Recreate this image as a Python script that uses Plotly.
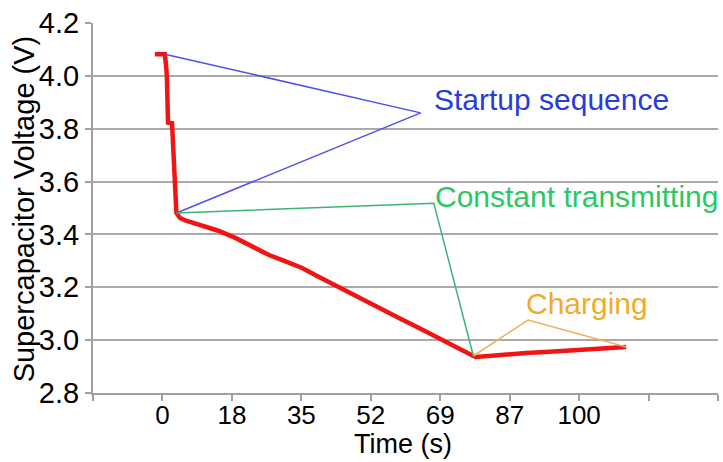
import plotly.graph_objects as go

# ---- data ----
time_s = [-1.9, 0.6, 0.9, 1.1, 1.4, 2.4, 3.5, 4.4, 5.9, 9.9, 14.0, 18.4, 22.5, 26.7, 31.0,
          35.0, 38.5, 41.7, 44.5, 47.5, 52.0, 56.0, 60.0, 64.3, 68.5, 72.6, 77.9,
          78.6, 84.0, 91.1, 97.0, 103.6, 110.0, 116.2]
voltage = [4.082, 4.082, 4.04, 4.002, 3.823, 3.821, 3.481, 3.462, 3.452, 3.435, 3.414, 3.386,
           3.356, 3.322, 3.297, 3.273, 3.245, 3.220, 3.196, 3.171, 3.140, 3.106, 3.078,
           3.046, 3.012, 2.981, 2.940, 2.936, 2.944, 2.951, 2.956, 2.963, 2.968, 2.974]

tick_step = 17.4
tick_labels = ["", "0", "18", "35", "52", "69", "87", "100", "", ""]
y_ticks = [2.8, 3.0, 3.2, 3.4, 3.6, 3.8, 4.0, 4.2]
x_title = "Time (s)"
y_title = "Supercapacitor Voltage (V)"

# callout labels and their elbow points (time, voltage)
callouts = [
    {"text": "Startup sequence", "color_line": "rgb(80,80,240)", "color_text": "rgb(40,60,220)",
     "start": 1, "end": 6, "elbow": (64.7, 3.86), "label": (68.3, 3.909)},
    {"text": "Constant transmitting", "color_line": "rgb(60,180,120)", "color_text": "rgb(40,200,100)",
     "start": 6, "end": 26, "elbow": (68.0, 3.518), "label": (68.5, 3.545)},
    {"text": "Charging", "color_line": "rgb(240,175,90)", "color_text": "rgb(238,172,40)",
     "start": 26, "end": 33, "elbow": (91.6, 3.076), "label": (91.4, 3.14)},
]

FONT = "Liberation Sans, Arial, sans-serif"

fig = go.Figure()
fig.add_trace(go.Scatter(x=time_s, y=voltage, mode="lines",
                         line=dict(color="rgb(240,20,20)", width=4.5),
                         showlegend=False, hoverinfo="skip"))

for c in callouts:
    xs = [time_s[c["start"]], c["elbow"][0], time_s[c["end"]]]
    ys = [voltage[c["start"]], c["elbow"][1], voltage[c["end"]]]
    fig.add_trace(go.Scatter(x=xs, y=ys, mode="lines",
                             line=dict(color=c["color_line"], width=1.5),
                             showlegend=False, hoverinfo="skip"))
    fig.add_annotation(x=c["label"][0], y=c["label"][1], text=c["text"], showarrow=False,
                       xanchor="left", yanchor="middle", xshift=-3,
                       font=dict(family=FONT, size=30, color=c["color_text"]))

# axis titles
fig.add_annotation(xref="paper", yref="paper", x=0.496, y=-0.137, text=x_title,
                   showarrow=False, xanchor="center", yanchor="middle",
                   font=dict(family=FONT, size=27, color="black"))
fig.add_annotation(xref="paper", yref="paper", x=-0.11, y=0.497, text=y_title,
                   showarrow=False, xanchor="center", yanchor="middle", textangle=-90,
                   font=dict(family=FONT, size=29, color="black"))

tickvals = [(i - 1) * tick_step for i in range(len(tick_labels))]

fig.update_layout(
    width=723, height=462,
    margin=dict(l=93, r=5, t=23, b=69, autoexpand=False),
    paper_bgcolor="white", plot_bgcolor="white",
    font=dict(family=FONT, size=28, color="black"),
)
fig.update_xaxes(
    range=[tickvals[0], tickvals[-1]],
    tickvals=tickvals, ticktext=tick_labels,
    showgrid=False, zeroline=False, automargin=False,
    showline=True, linecolor="rgb(160,160,160)", linewidth=2,
    ticks="outside", ticklen=6, tickcolor="rgb(160,160,160)", tickwidth=2,
    tickfont=dict(size=26), ticklabelstandoff=-8,
)
fig.update_yaxes(
    range=[2.8, 4.2],
    tickvals=y_ticks, ticktext=[f"{v:.1f}" for v in y_ticks],
    showgrid=True, gridcolor="rgb(170,170,170)", gridwidth=2,
    zeroline=False, automargin=False,
    showline=True, linecolor="rgb(160,160,160)", linewidth=2,
    ticks="outside", ticklen=6, tickcolor="rgb(160,160,160)", tickwidth=2,
    tickfont=dict(size=29),
)

fig.write_html("out.html", config={"displayModeBar": False},
               post_script="document.body.style.margin='0';")
